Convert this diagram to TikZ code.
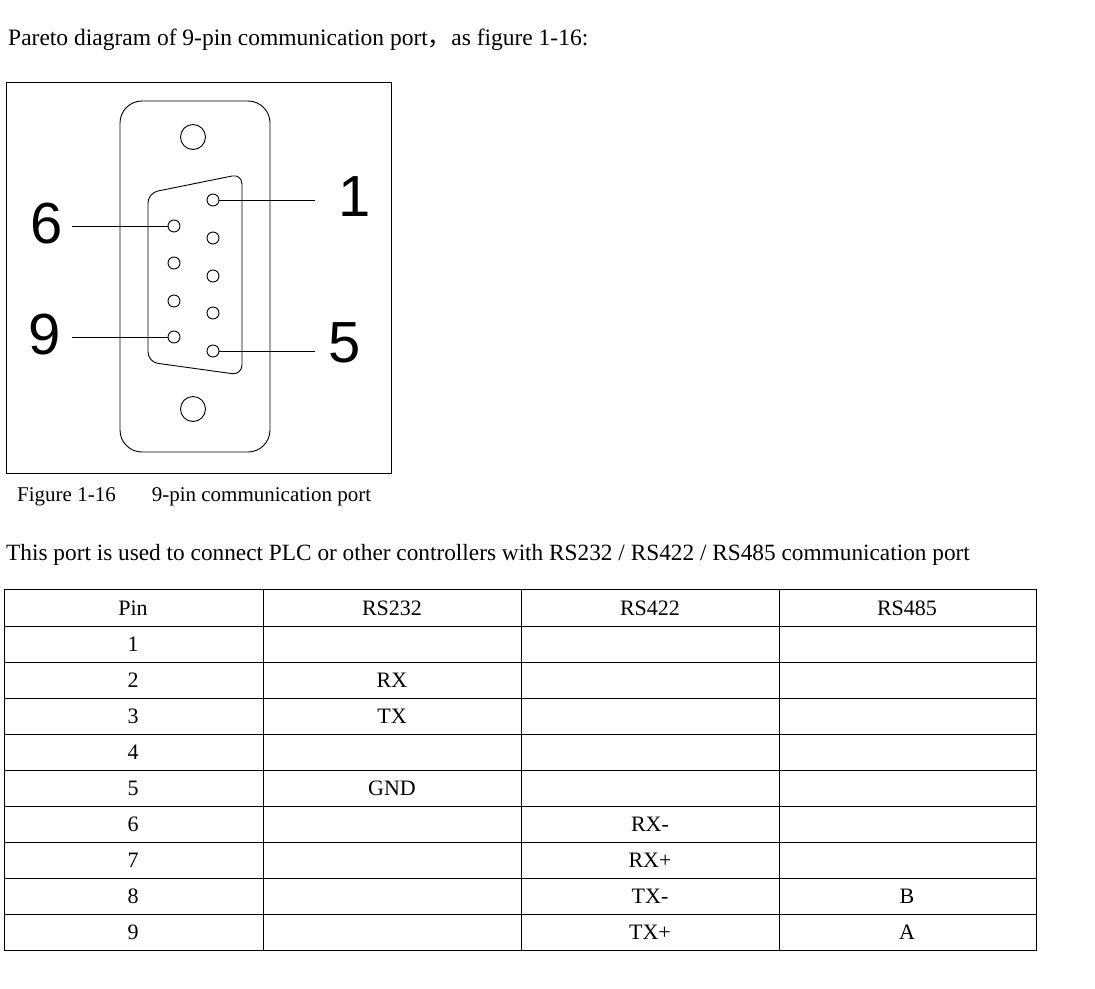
\documentclass[tikz,border=0pt]{standalone}
\usepackage{fontspec}
\setmainfont{Liberation Serif}
\newfontfamily\arial{Liberation Sans}
\newfontfamily\cjk{Noto Sans CJK SC}
\begin{document}
\begin{tikzpicture}[x=1pt,y=-1pt,
  txt/.style={inner sep=0pt,anchor=base,font=\fontsize{22}{24}\selectfont},
  big/.style={inner sep=0pt,font=\arial\fontsize{58}{58}\selectfont},
  pin/.style={draw,circle,minimum size=12pt,inner sep=0pt,line width=0.9pt},
  hole/.style={draw,circle,minimum size=25pt,inner sep=0pt,line width=0.9pt},
  lead/.style={line width=0.9pt}]
\useasboundingbox (0,0) rectangle (1095,988);
\node[inner sep=0pt,anchor=west,font=\fontsize{23.5}{25}\selectfont] (title) at (8,40) {Pareto diagram of 9-pin communication port{\cjk ，}as figure 1-16:};
\node[draw,line width=1.1pt,minimum width=385pt,minimum height=391pt,anchor=north west,inner sep=0pt] (frame) at (6,82) {};
\draw[line width=0.9pt,rounded corners=22pt] (120,101) rectangle (270,452);
\node[hole] (h1) at (193,137) {};
\node[hole] (h2) at (193,409) {};
\draw[line width=0.9pt,rounded corners=10pt] (148,193) -- (148,362) -- (242,375) -- (242,174) -- cycle;
\foreach \i/\y in {1/200,2/238,3/276,4/313,5/351}{\node[pin] (p\i) at (213,\y) {};}
\foreach \i/\y in {6/226,7/263,8/301,9/337}{\node[pin] (p\i) at (174,\y) {};}
\node[big] (l1) at (355,197) {1};
\node[big] (l5) at (345,343) {5};
\node[big] (l6) at (47,224) {6};
\node[big] (l9) at (45,335) {9};
\coordinate (e1) at (315,200); \coordinate (e5) at (315,351);
\coordinate (e6) at (72,226); \coordinate (e9) at (72,337);
\draw[lead] (p1.east) -- (e1);
\draw[lead] (p5.east) -- (e5);
\draw[lead] (e6) -- (p6.west);
\draw[lead] (e9) -- (p9.west);
\node[inner sep=0pt,anchor=west,font=\fontsize{21}{23}\selectfont] (cap) at (17,497) {Figure 1-16\hspace{36pt}9-pin communication port};
\node[inner sep=0pt,anchor=west,font=\fontsize{23.3}{25}\selectfont] (desc) at (6,555) {This port is used to connect PLC or other controllers with RS232 / RS422 / RS485 communication port};
\draw[line width=0.9pt] (4,589) rectangle (1036,950);
\foreach \x in {263,521,779}{\draw[line width=0.9pt] (\x,589) -- (\x,950);}
\foreach \y in {626,662,698,734,770,806,842,878,914}{\draw[line width=0.9pt] (4,\y) -- (1036,\y);}
\foreach \t [count=\r from 0] in {Pin,1,2,3,4,5,6,7,8,9}{\node[txt] (c\r) at (133,{615+36*\r}) {\t};}
\node[txt] (h232) at (392,615) {RS232};
\node[txt] (h422) at (650,615) {RS422};
\node[txt] (h485) at (907,615) {RS485};
\node[txt] (a2) at (392,687) {RX};
\node[txt] (a3) at (392,723) {TX};
\node[txt] (a5) at (392,795) {GND};
\node[txt] (b6) at (650,831) {RX-};
\node[txt] (b7) at (650,867) {RX+};
\node[txt] (b8) at (650,903) {TX-};
\node[txt] (b9) at (650,939) {TX+};
\node[txt] (d8) at (907,903) {B};
\node[txt] (d9) at (907,939) {A};
\end{tikzpicture}
\end{document}
